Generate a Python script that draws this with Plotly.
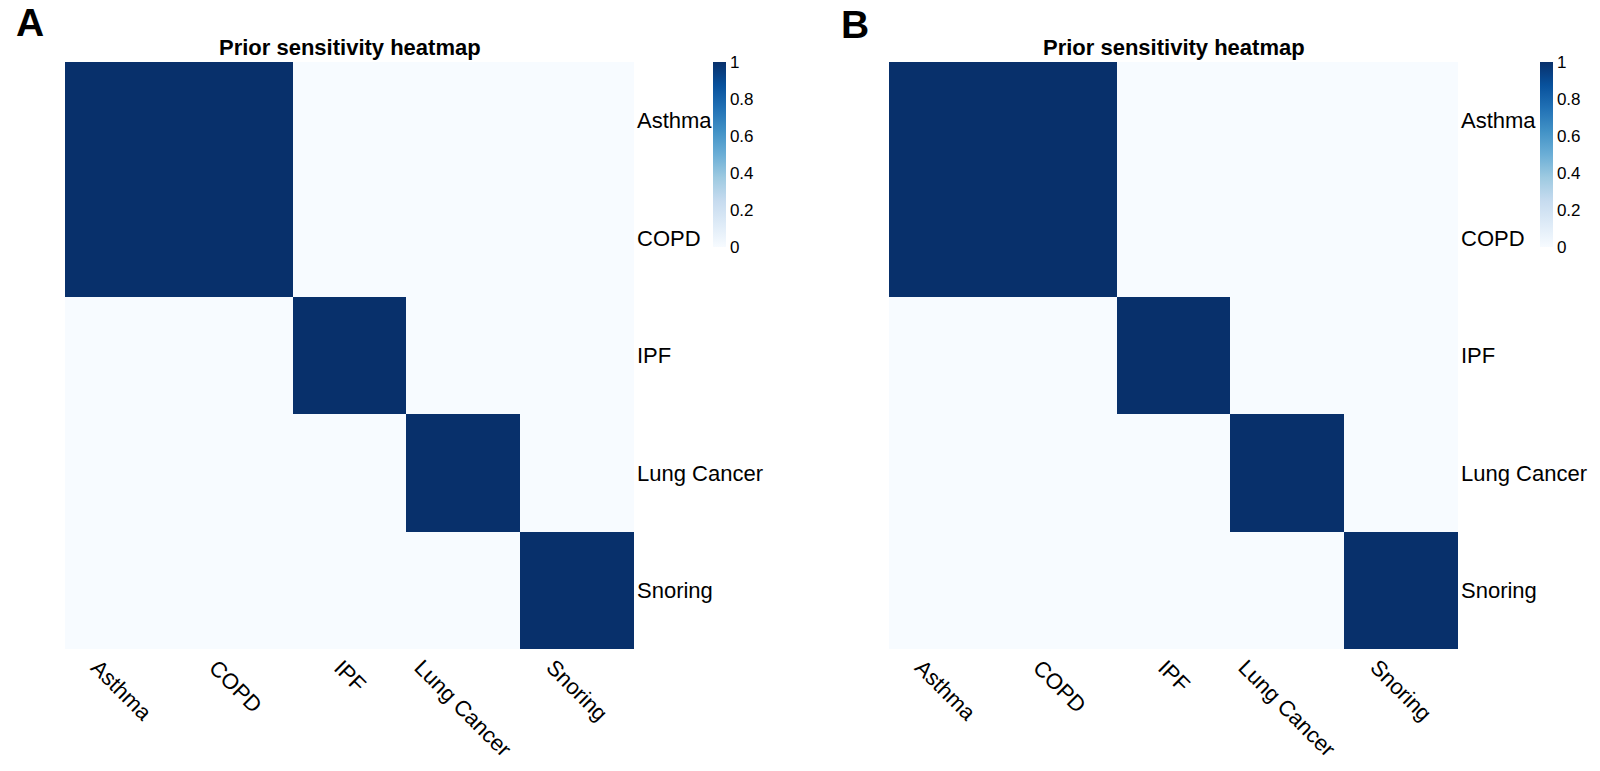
import plotly.graph_objects as go

categories = ["Asthma", "COPD", "IPF", "Lung Cancer", "Snoring"]
matrix_a = [
    [1, 1, 0, 0, 0],
    [1, 1, 0, 0, 0],
    [0, 0, 1, 0, 0],
    [0, 0, 0, 1, 0],
    [0, 0, 0, 0, 1],
]
matrix_b = [
    [1, 1, 0, 0, 0],
    [1, 1, 0, 0, 0],
    [0, 0, 1, 0, 0],
    [0, 0, 0, 1, 0],
    [0, 0, 0, 0, 1],
]
cbar_ticks = [0, 0.2, 0.4, 0.6, 0.8, 1]
cbar_ticktext = ["0", "0.2", "0.4", "0.6", "0.8", "1"]
panel_titles = ["Prior sensitivity heatmap", "Prior sensitivity heatmap"]
panel_letters = ["A", "B"]

W, H = 1600, 771
FONT = "Arial, Liberation Sans, sans-serif"

def px_x(v):
    return v / W

def px_y(v):
    return 1 - v / H

panels = [
    dict(z=matrix_a, x0=65, x1=634, cb_x=713, letter_x=29.5, letter_y=22),
    dict(z=matrix_b, x0=889, x1=1458, cb_x=1540, letter_x=854.5, letter_y=25),
]
y_top, y_bot = 62, 649

fig = go.Figure()
annotations = []
for i, p in enumerate(panels):
    xa = "x" if i == 0 else "x2"
    ya = "y" if i == 0 else "y2"
    fig.add_trace(go.Heatmap(
        z=p["z"], x=categories, y=categories,
        xaxis=xa, yaxis=ya,
        colorscale="Blues", zmin=0, zmax=1,
        xgap=0, ygap=0,
        colorbar=dict(
            x=px_x(p["cb_x"]), xanchor="left", xref="paper",
            y=px_y(y_top), yanchor="top", yref="paper",
            len=185, lenmode="pixels",
            thickness=13, thicknessmode="pixels",
            xpad=0, ypad=0, outlinewidth=0,
            tickvals=cbar_ticks, ticktext=cbar_ticktext,
            ticks="", tickfont=dict(family=FONT, size=17, color="#000"),
        ),
    ))
    xkey = "xaxis" if i == 0 else "xaxis2"
    ykey = "yaxis" if i == 0 else "yaxis2"
    fig.update_layout(**{
        xkey: dict(domain=[px_x(p["x0"]), px_x(p["x1"])], anchor=ya,
                   showticklabels=False, showgrid=False, zeroline=False,
                   ticks="", showline=False),
        ykey: dict(domain=[px_y(y_bot), px_y(y_top)], anchor=xa,
                   side="right", autorange="reversed",
                   showgrid=False, zeroline=False, ticks="", showline=False,
                   ticklabelstandoff=2,
                   tickfont=dict(family=FONT, size=22, color="#000")),
    })
    for c in categories:
        annotations.append(dict(
            x=c, xref=xa, y=0, yref=f"{ya} domain",
            text=c, showarrow=False, textangle=45,
            xanchor="center", yanchor="top", yshift=-3,
            font=dict(family=FONT, size=22, color="#000"),
        ))
    annotations.append(dict(
        x=(px_x(p["x0"]) + px_x(p["x1"])) / 2, xref="paper",
        y=px_y(47), yref="paper", text=f"<b>{panel_titles[i]}</b>",
        showarrow=False, xanchor="center", yanchor="middle",
        font=dict(family=FONT, size=22, color="#000"),
    ))
    annotations.append(dict(
        x=px_x(p["letter_x"]), xref="paper",
        y=px_y(p["letter_y"]), yref="paper", text=f"<b>{panel_letters[i]}</b>",
        showarrow=False, xanchor="center", yanchor="middle",
        font=dict(family=FONT, size=39, color="#000"),
    ))

fig.update_layout(
    width=W, height=H,
    margin=dict(l=0, r=0, t=0, b=0),
    paper_bgcolor="white", plot_bgcolor="white",
    annotations=annotations,
    showlegend=False,
)
fig.write_html("out.html", config={"displayModeBar": False},
               post_script="document.body.style.margin='0';")
